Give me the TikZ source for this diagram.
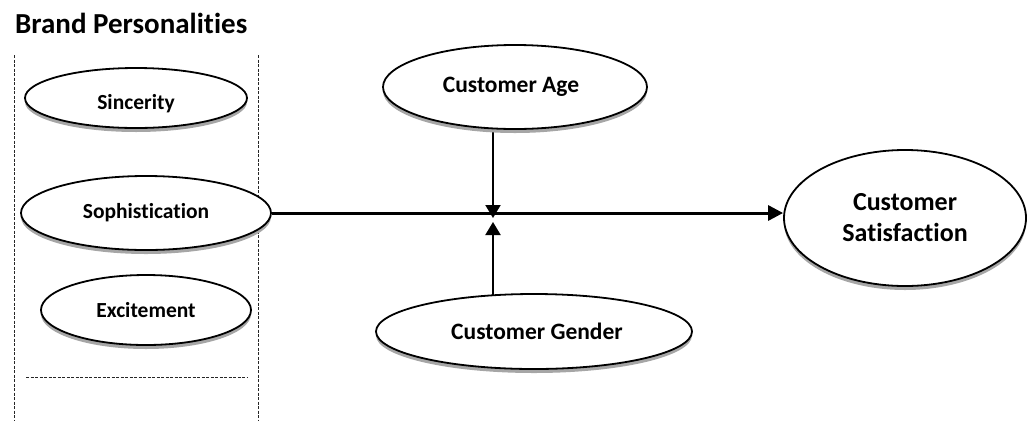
\documentclass[tikz,border=0pt]{standalone}
\usepackage{fontspec}
\setmainfont{Carlito}[Ligatures={NoCommon}]
\usetikzlibrary{shapes.geometric,arrows.meta,shadows}
\pgfdeclarelayer{bg}
\pgfsetlayers{bg,main}
\begin{document}
\begin{tikzpicture}[x=1pt,y=-1pt,
  oval/.style={ellipse, draw=black, line width=1.8pt, fill=white, inner sep=0pt,
    drop shadow={shadow xshift=0pt, shadow yshift=-4pt, fill=black!35, opacity=1}},
  sep/.style={draw=black!85, line width=0.9pt, dash pattern=on 3pt off 1.5pt},
  mainarr/.style={line width=3pt, -{Triangle[length=15pt,width=15pt]}},
  modarr/.style={line width=2pt, -{Triangle[length=13pt,width=15pt]}}
]
\useasboundingbox (0,0) rectangle (1027,421);
% title
\node[anchor=base west, inner sep=0pt, font=\bfseries\fontsize{29}{33}\selectfont] (title) at (15,33) {Brand Personalities};
% separators
\coordinate (lt) at (14,55); \coordinate (lb) at (14,421);
\coordinate (rt) at (258,55); \coordinate (rb) at (258,421);
\coordinate (hl) at (26,377); \coordinate (hr) at (248,377);
\draw[sep] (lt) -- (lb);
\draw[sep] (rt) -- (rb);
\draw[sep] (hl) -- (hr);
% ellipses
\node[oval, minimum width=222pt, minimum height=60pt] (sinc) at (136,98) {};
\node[font=\bfseries\fontsize{21.5}{25}\selectfont, inner sep=0pt] (sinctext) at (136,104) {Sincerity};
\node[oval, minimum width=250pt, minimum height=74pt, font=\bfseries\fontsize{21.5}{25}\selectfont] (soph) at (146,213) {Sophistication};
\node[oval, minimum width=210pt, minimum height=70pt, font=\bfseries\fontsize{21.5}{25}\selectfont] (exc) at (146,310) {Excitement};
\node[oval, minimum width=264pt, minimum height=84pt, font=\bfseries\fontsize{23.5}{28}\selectfont] (age) at (515,87) {\hspace*{-8pt}Customer Age};
\node[oval, minimum width=316pt, minimum height=75pt, font=\bfseries\fontsize{23.5}{28}\selectfont] (gen) at (534,331.5) {\hspace*{6pt}Customer Gender};
\node[oval, minimum width=242pt, minimum height=136pt, align=center, font=\bfseries\fontsize{26}{31}\selectfont] (sat) at (905,218) {Customer\\Satisfaction};
% connectors
\coordinate (dtip) at (493,218);
\coordinate (utip) at (493,222);
\draw[mainarr] (soph.east) -- (soph.east -| sat.west);
\begin{pgfonlayer}{bg}
\draw[modarr] (age.center -| dtip) -- (dtip);
\draw[modarr] (gen.center -| utip) -- (utip);
\end{pgfonlayer}
\end{tikzpicture}
\end{document}
